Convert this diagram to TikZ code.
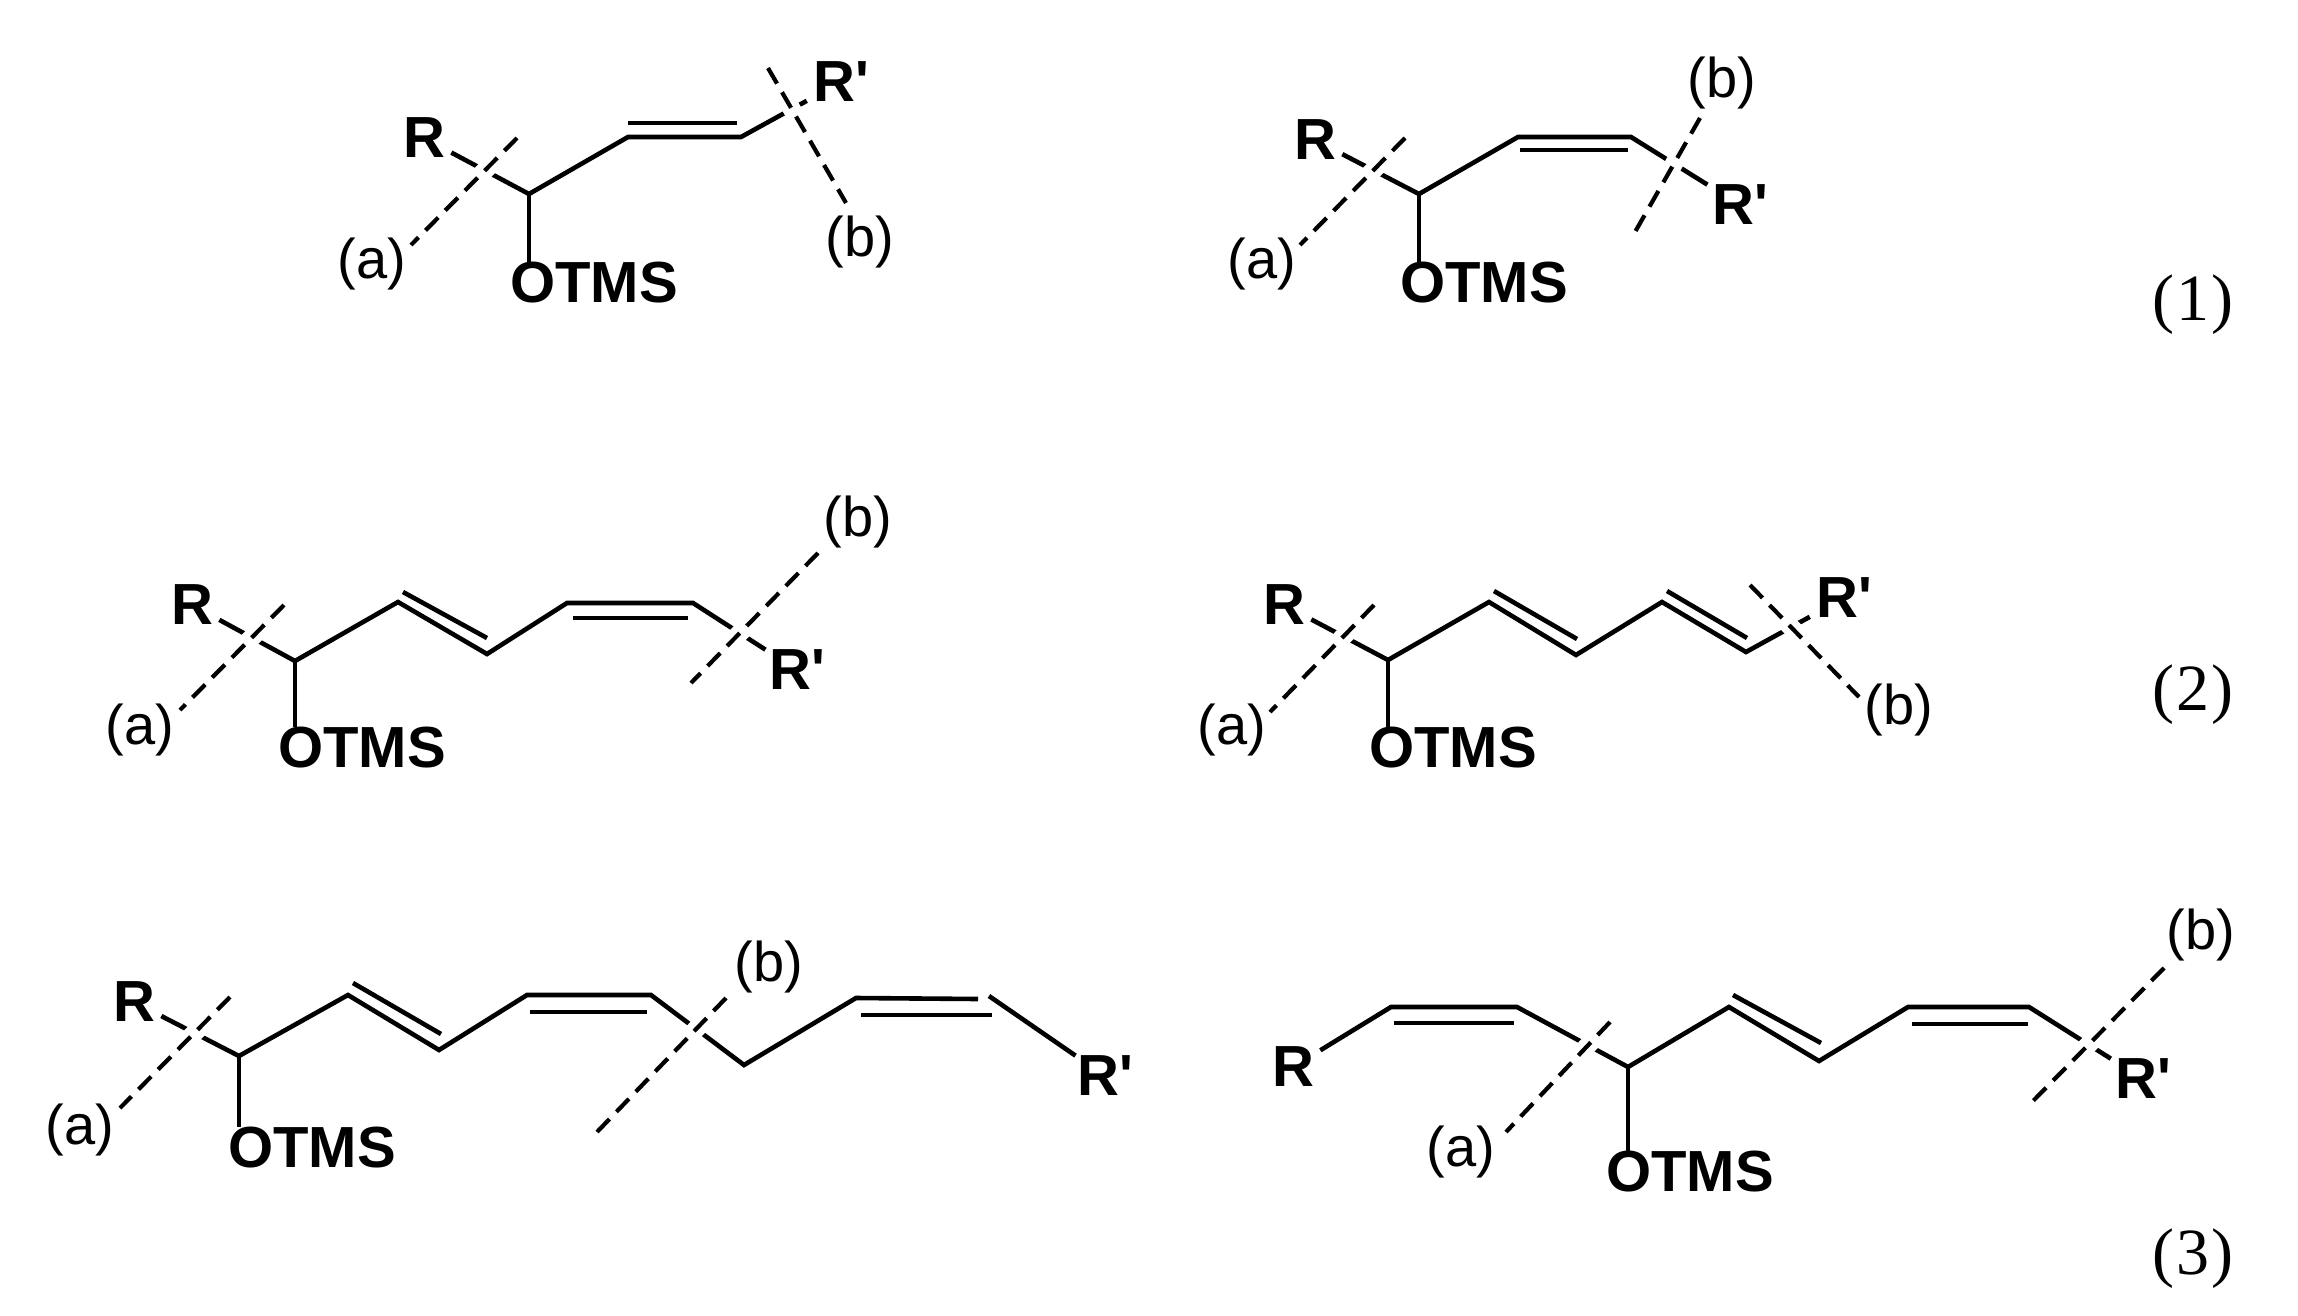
\documentclass[tikz,border=0pt]{standalone}
\usepackage{fontspec}
\newfontfamily\chemfont{Liberation Sans}
\newfontfamily\eqfont[LetterSpace=3]{Liberation Serif}
\tikzset{
  group/.style={inner xsep=3bp,inner ysep=0pt,font=\chemfont\bfseries\fontsize{29bp}{30bp}\selectfont},
  tag/.style={inner sep=0pt,font=\chemfont\fontsize{28bp}{30bp}\selectfont},
  eqno/.style={inner sep=0pt,font=\eqfont\fontsize{33bp}{36bp}\selectfont},
  bond/.style={line width=2.3bp},
  dbl/.style={line width=2.3bp},
  cut/.style={line width=2.1bp,dash pattern=on 9bp off 5bp,preaction={draw=white,solid,line width=9bp}}
}
\begin{document}
\begin{tikzpicture}[scale=.5]
\useasboundingbox (0bp,0bp) rectangle (2298bp,-1316bp);
\node (AR) at (424bp,-138bp)[group] {R};
\node (AS) at (841bp,-82bp)[group] {R'};
\node (AO) at (594bp,-283bp)[group] {OTMS};
\coordinate (A1) at (529bp,-194bp);
\coordinate (A2) at (628bp,-137bp);
\coordinate (A3) at (741bp,-137bp);
\draw [bond] (AR) to (A1) to (A2) to (A3) to (AS);
\draw [bond] (A1) to (A1 |- AO.north);
\draw [dbl] (628bp,-123bp) to (737bp,-123bp);
\draw [cut] (517bp,-138bp) to (411bp,-245bp);
\draw [cut] (768bp,-68bp) to (846bp,-203bp);
\node (Aa) at (372bp,-264bp)[tag] {(a)};
\node (Ab) at (860bp,-242bp)[tag] {(b)};

\node (BR) at (1315bp,-140bp)[group] {R};
\node (BS) at (1740bp,-205bp)[group] {R'};
\node (BO) at (1484bp,-283bp)[group] {OTMS};
\coordinate (B1) at (1419bp,-194bp);
\coordinate (B2) at (1518bp,-137bp);
\coordinate (B3) at (1631bp,-137bp);
\draw [bond] (BR) to (B1) to (B2) to (B3) to (BS);
\draw [bond] (B1) to (B1 |- BO.north);
\draw [dbl] (1520bp,-150bp) to (1628bp,-150bp);
\draw [cut] (1405bp,-138bp) to (1300bp,-245bp);
\draw [cut] (1700bp,-118bp) to (1635bp,-232bp);
\node (Ba) at (1262bp,-264bp)[tag] {(a)};
\node (Bb) at (1722bp,-83bp)[tag] {(b)};
\node (N1) at (2193bp,-305bp)[eqno] {(1)};

\node (CR) at (192bp,-605bp)[group] {R};
\node (CS) at (797bp,-670bp)[group] {R'};
\node (CO) at (362bp,-748bp)[group] {OTMS};
\coordinate (C1) at (295bp,-661bp);
\coordinate (C2) at (398bp,-602bp);
\coordinate (C3) at (487bp,-654bp);
\coordinate (C4) at (567bp,-603bp);
\coordinate (C5) at (693bp,-603bp);
\draw [bond] (CR) to (C1) to (C2) to (C3) to (C4) to (C5) to (CS);
\draw [bond] (C1) to (C1 |- CO.north);
\draw [dbl] (403bp,-592bp) to (487bp,-638bp);
\draw [dbl] (573bp,-618bp) to (688bp,-618bp);
\draw [cut] (284bp,-605bp) to (180bp,-710bp);
\draw [cut] (818bp,-553bp) to (691bp,-683bp);
\node (Ca) at (140bp,-730bp)[tag] {(a)};
\node (Cb) at (858bp,-522bp)[tag] {(b)};

\node (DR) at (1284bp,-605bp)[group] {R};
\node (DS) at (1844bp,-598bp)[group] {R'};
\node (DO) at (1453bp,-748bp)[group] {OTMS};
\coordinate (D1) at (1388bp,-660bp);
\coordinate (D2) at (1489bp,-602bp);
\coordinate (D3) at (1576bp,-655bp);
\coordinate (D4) at (1662bp,-602bp);
\coordinate (D5) at (1746bp,-652bp);
\draw [bond] (DR) to (D1) to (D2) to (D3) to (D4) to (D5) to (DS);
\draw [bond] (D1) to (D1 |- DO.north);
\draw [dbl] (1494bp,-591bp) to (1577bp,-639bp);
\draw [dbl] (1667bp,-591bp) to (1747bp,-638bp);
\draw [cut] (1374bp,-605bp) to (1270bp,-712bp);
\draw [cut] (1750bp,-585bp) to (1859bp,-697bp);
\node (Da) at (1232bp,-730bp)[tag] {(a)};
\node (Db) at (1899bp,-710bp)[tag] {(b)};
\node (N2) at (2193bp,-695bp)[eqno] {(2)};

\node (ER) at (134bp,-1002bp)[group] {R};
\node (ES) at (1105bp,-1076bp)[group] {R'};
\node (EO) at (312bp,-1148bp)[group] {OTMS};
\coordinate (E1) at (239bp,-1056bp);
\coordinate (E2) at (348bp,-995bp);
\coordinate (E3) at (439bp,-1050bp);
\coordinate (E4) at (527bp,-995bp);
\coordinate (E5) at (651bp,-995bp);
\coordinate (E6) at (744bp,-1065bp);
\coordinate (E7) at (856bp,-998bp);
\coordinate (E8) at (978bp,-999bp);
\coordinate (E9) at (989bp,-996bp);
\draw [bond] (ER) to (E1) to (E2) to (E3) to (E4) to (E5) to (E6) to (E7) to (E8);
\draw [bond] (E9) to (ES);
\draw [bond] (E1) to (E1 |- EO.north);
\draw [dbl] (353bp,-983bp) to (441bp,-1034bp);
\draw [dbl] (530bp,-1012bp) to (647bp,-1012bp);
\draw [dbl] (861bp,-1015bp) to (992bp,-1015bp);
\draw [cut] (230bp,-997bp) to (120bp,-1108bp);
\draw [cut] (726bp,-998bp) to (597bp,-1132bp);
\node (Ea) at (80bp,-1130bp)[tag] {(a)};
\node (Eb) at (769bp,-967bp)[tag] {(b)};

\node (FR) at (1293bp,-1067bp)[group] {R};
\node (FS) at (2143bp,-1079bp)[group] {R'};
\node (FO) at (1690bp,-1172bp)[group] {OTMS};
\coordinate (F1) at (1391bp,-1007bp);
\coordinate (F2) at (1517bp,-1007bp);
\coordinate (F3) at (1628bp,-1067bp);
\coordinate (F4) at (1729bp,-1007bp);
\coordinate (F5) at (1819bp,-1061bp);
\coordinate (F6) at (1908bp,-1007bp);
\coordinate (F7) at (2029bp,-1007bp);
\draw [bond] (FR) to (F1) to (F2) to (F3) to (F4) to (F5) to (F6) to (F7) to (FS);
\draw [bond] (F3) to (F3 |- FO.north);
\draw [dbl] (1394bp,-1023bp) to (1514bp,-1023bp);
\draw [dbl] (1733bp,-995bp) to (1821bp,-1043bp);
\draw [dbl] (1912bp,-1024bp) to (2028bp,-1024bp);
\draw [cut] (1610bp,-1022bp) to (1506bp,-1132bp);
\draw [cut] (2164bp,-968bp) to (2032bp,-1102bp);
\node (Fa) at (1461bp,-1152bp)[tag] {(a)};
\node (Fb) at (2201bp,-935bp)[tag] {(b)};
\node (N3) at (2193bp,-1259bp)[eqno] {(3)};
\end{tikzpicture}
\end{document}
